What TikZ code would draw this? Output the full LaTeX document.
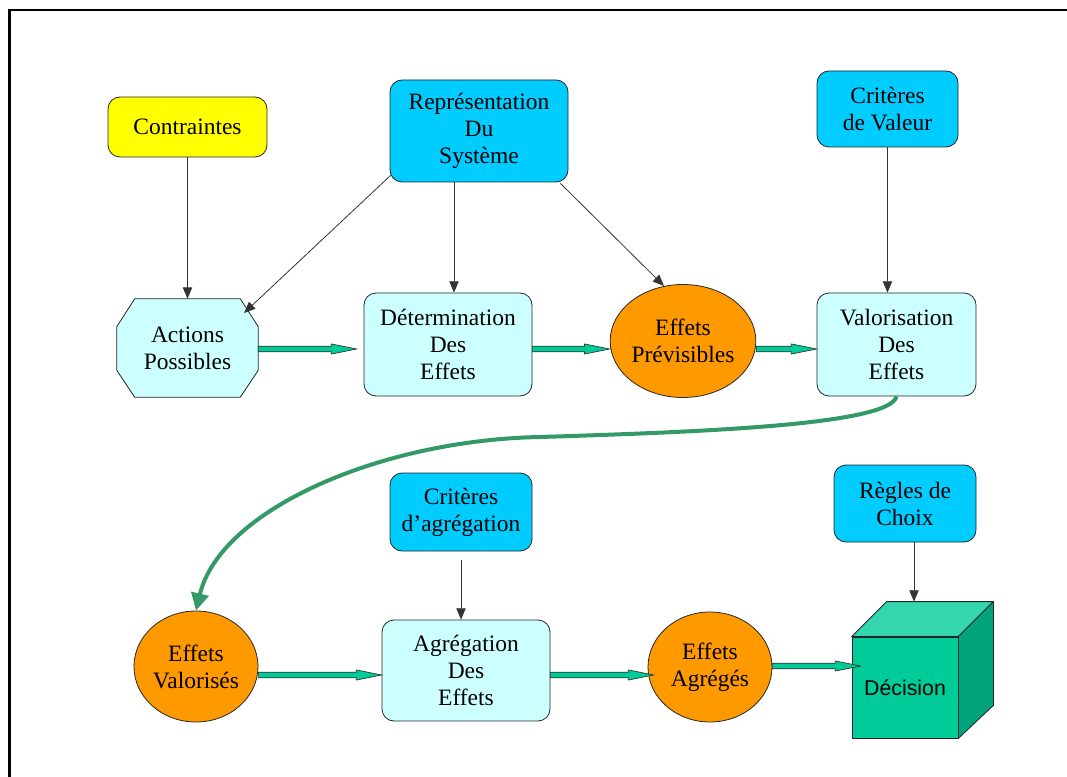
\documentclass[tikz,border=0pt]{standalone}
\usepackage{fontspec}
\setmainfont{Liberation Serif}
\newfontfamily\arialfont{Liberation Sans}
\usetikzlibrary{arrows.meta,calc,shapes.geometric,backgrounds}

\definecolor{jaune}{HTML}{FFFF00}
\definecolor{cyanfonce}{HTML}{00CCFF}
\definecolor{cyanclair}{HTML}{CCFFFF}
\definecolor{orange}{HTML}{FF9900}
\definecolor{turquoise}{HTML}{00CC99}
\definecolor{turqclair}{HTML}{33D6AE}
\definecolor{turqsombre}{HTML}{00A37A}
\definecolor{vertcourbe}{HTML}{339966}

\tikzset{
  txt/.style={font=\fontsize{17.6pt}{20.25pt}\selectfont, align=center, inner sep=0pt},
  boite/.style={txt, draw=black!85, line width=0.6pt, rounded corners=9pt},
  source/.style={boite, fill=cyanfonce},
  etape/.style={boite, fill=cyanclair},
  resultat/.style={txt, ellipse, draw=black!85, line width=0.6pt, fill=orange},
  contour/.style={draw=black!85, line width=0.6pt, line join=round},
  fleche/.style={draw=black!80, line width=0.6pt, -{Triangle[length=8.5pt,width=7pt]}},
  blockarrow/.style={draw=black!80, line width=0.5pt, fill=turquoise,
    to path={let \p1=(\tikztostart), \p2=(\tikztotarget) in
      (\x1,\y1+2.1pt) -- (\x2-19pt,\y1+2.1pt) -- (\x2-19pt,\y1+3.8pt) -- (\x2,\y1)
      -- (\x2-19pt,\y1-3.8pt) -- (\x2-19pt,\y1-2.1pt) -- (\x1,\y1-2.1pt) -- cycle}},
  courbe/.style={draw=vertcourbe, line width=3pt, -{Triangle[length=13pt,width=13pt]}}
}

\begin{document}
\begin{tikzpicture}[x=0.75pt,y=-0.75pt]
\useasboundingbox (0,0) rectangle (1067,777);

% cadre
\draw[line width=1.6pt] (9.5,777) -- (9.5,10) -- (1067,10);

% sources
\node[boite, fill=jaune, minimum width=119.25pt, minimum height=45pt] (con) at (187.5,127) {Contraintes};
\node[source, minimum width=133.5pt, minimum height=76.5pt] (rep) at (479,131) {Représentation\\Du\\Système};
\node[source, minimum width=105.75pt, minimum height=57pt] (cv) at (887.5,109) {Critères\\de Valeur};
\node[source, minimum width=106.5pt, minimum height=58.5pt] (ca) at (461,512) {Critères\\d’agrégation};
\node[source, minimum width=106.5pt, minimum height=57.75pt] (reg) at (905,503.5) {Règles de\\Choix};

% première ligne
\node[txt, minimum width=105.75pt, minimum height=73.5pt] (act) at (187.5,348) {Actions\\Possibles};
\begin{scope}[on background layer]
  \draw[contour, fill=cyanclair]
    ($(act.north west)+(18,0)$) -- ($(act.north east)+(-18,0)$) -- ($(act.north east)+(0,28)$)
    -- ($(act.south east)+(0,-27)$) -- ($(act.south east)+(-18,0)$) -- ($(act.south west)+(18,0)$)
    -- ($(act.south west)+(0,-27)$) -- ($(act.north west)+(0,28)$) -- cycle;
\end{scope}
\node[etape, minimum width=126pt, minimum height=77.25pt] (det) at (448,344.5) {Détermination\\Des\\Effets};
\node[resultat, minimum width=105.75pt, minimum height=84.75pt] (ep) at (683,341) {Effets\\Prévisibles};
\node[etape, minimum width=119.25pt, minimum height=77.25pt] (val) at (896.5,344.5) {Valorisation\\Des\\Effets};

% deuxième ligne
\node[resultat, minimum width=93pt, minimum height=83.25pt] (ev) at (196,666.5) {Effets\\Valorisés};
\node[etape, minimum width=126pt, minimum height=75.75pt] (agr) at (466,670.5) {Agrégation\\Des\\Effets};
\node[resultat, minimum width=93pt, minimum height=82.5pt] (ea) at (710,667) {Effets\\Agrégés};

% cube de décision
\node[contour, fill=turquoise, minimum width=79.5pt, minimum height=75.75pt, inner sep=0pt,
      font=\arialfont\fontsize{16pt}{19pt}\selectfont] (dec) at (905,687.5) {Décision};
\coordinate (dectop) at ($(dec.north west)+(35,-35)$);
\coordinate (decback) at ($(dec.north east)+(35,-35)$);
\draw[contour, fill=turqclair] (dec.north west) -- (dectop) -- (decback) -- (dec.north east) -- cycle;
\draw[contour, fill=turqsombre] (dec.north east) -- (decback) -- ($(dec.south east)+(35,-33)$) -- (dec.south east) -- cycle;

% flèches fines
\coordinate (regpied) at ($(reg.south)+(9,0)$);
\draw[fleche] (con.south) -- (act.north);
\draw[fleche] ($(rep.south west)+(1,-7)$) -- ($(act.center)+(56.5,-35)$);
\draw[fleche] ($(rep.south)+(-25,0)$) -- ($(det.north)+(6,0)$);
\draw[fleche] ($(rep.south east)+(-8,1)$) -- ($(ep.center)+(-19,-55)$);
\draw[fleche] (cv.south) -- (cv.south |- val.north);
\draw[fleche, shorten <=6.75pt] (ca.south) -- (ca.south |- agr.north);
\draw[fleche] (regpied) -- (regpied |- dectop);

% flèches épaisses
\draw[blockarrow] ($(act.east)+(0,1)$) to ($(det.west)+(-7,1)$);
\draw[blockarrow] ($(det.east |- act.east)+(0,1)$) to ($(ep.west |- act.east)+(0,1)$);
\draw[blockarrow] ($(ep.east |- act.east)+(0,1)$) to ($(val.west |- act.east)+(0,1)$);
\coordinate (rang2) at (0,675);
\draw[blockarrow] (ev.east |- rang2) to (agr.west |- rang2);
\draw[blockarrow] (agr.east |- rang2) to ($(ea.west |- rang2)+(6,0)$);
\draw[blockarrow] ($(ea.east)+(0,-1)$) to ($(dec.west |- ea.east)+(9,-1)$);

% courbe verte
\draw[courbe] (val.south) .. controls (890,425) and (700,432) .. (540,437)
  .. controls (380,440) and (220,510) .. (ev.north);
\end{tikzpicture}
\end{document}
